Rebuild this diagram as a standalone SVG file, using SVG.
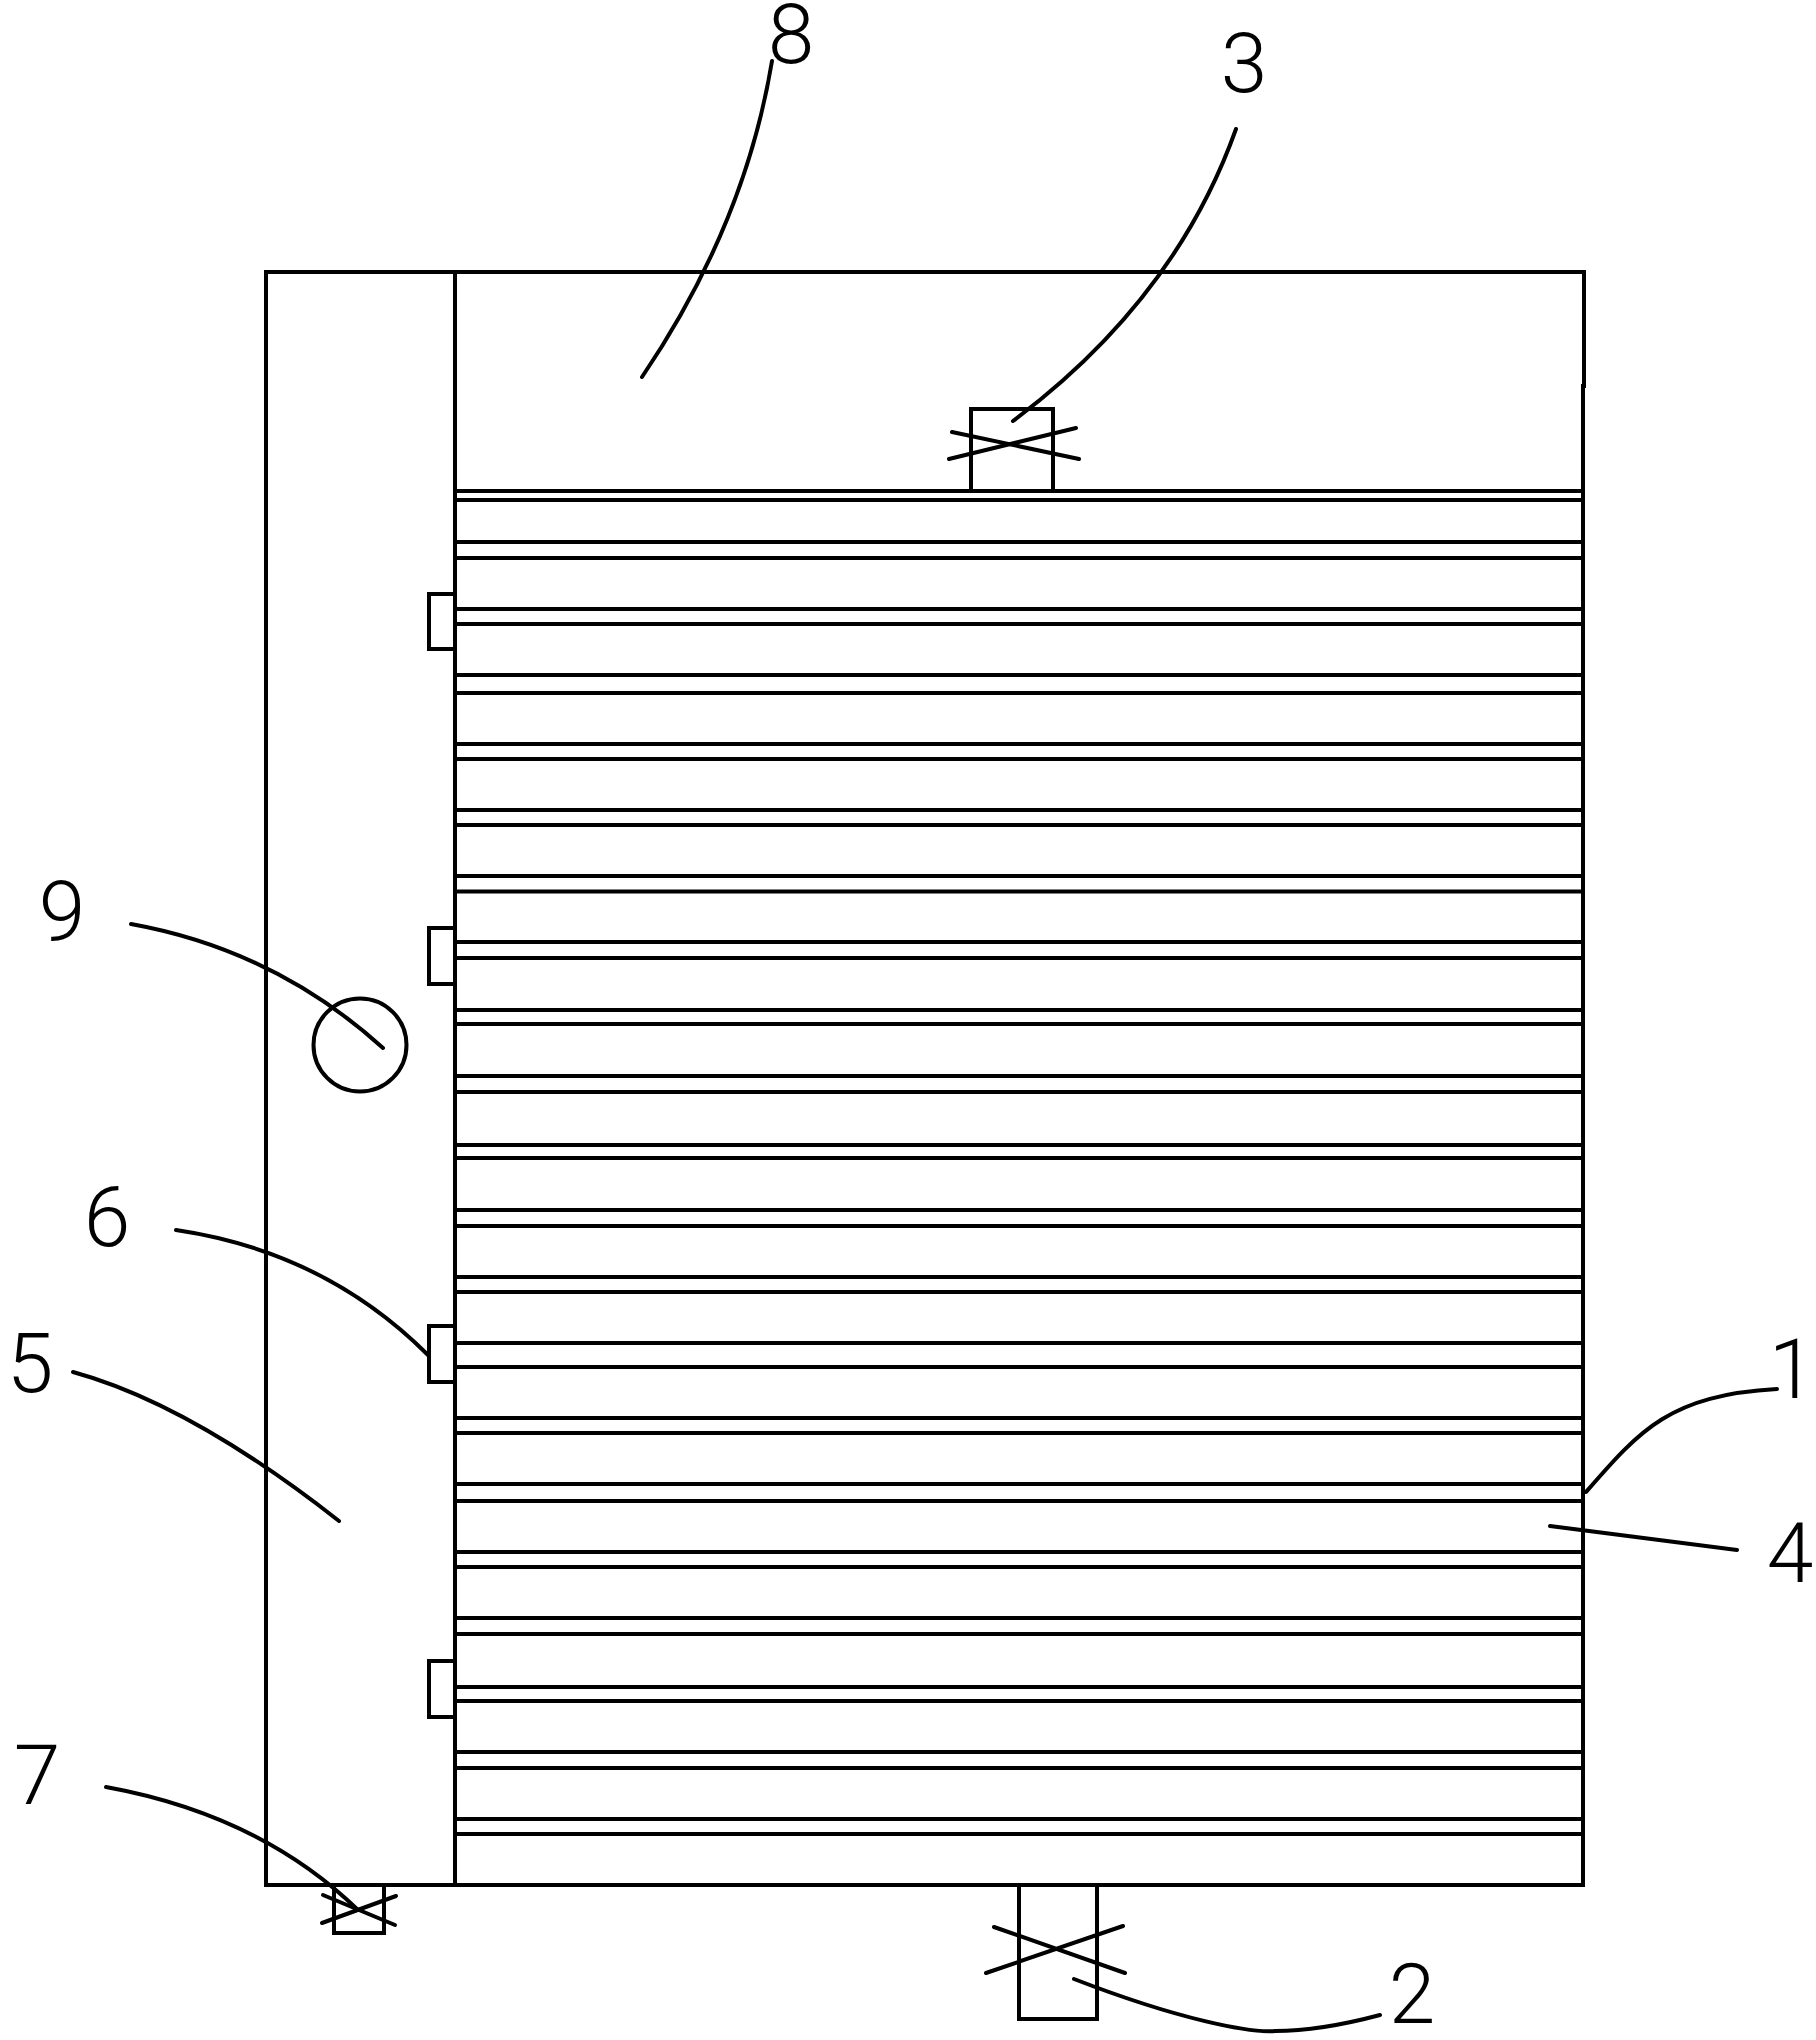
<svg xmlns="http://www.w3.org/2000/svg" width="1816" height="2040" viewBox="0 0 1816 2040">
<style>
.s{fill:none;stroke:#000;stroke-width:4}
.t{fill:none;stroke:#000;stroke-width:4;stroke-linecap:round}
.n{font-family:"Roboto","Liberation Sans",sans-serif;font-weight:300;font-size:84px;fill:#000;text-anchor:middle}
</style>
<rect width="1816" height="2040" fill="#fff"/>
<g id="housing" class="s">
<path d="M266,272H1584V386H1583V1885H266Z"/>
<path d="M455,272V1885"/>
</g>
<g id="plates" class="s">
<path d="M455,491H1583M455,500H1583M455,542H1583M455,558H1583M455,609H1583M455,624H1583M455,675H1583M455,693H1583M455,744H1583M455,759H1583M455,810H1583M455,825H1583M455,876H1583M455,891.500H1583M455,942H1583M455,958H1583M455,1010H1583M455,1024H1583M455,1076H1583M455,1092H1583M455,1145H1583M455,1158H1583M455,1210H1583M455,1226H1583M455,1277H1583M455,1292H1583M455,1343H1583M455,1367H1583M455,1418H1583M455,1433H1583M455,1484H1583M455,1501H1583M455,1552H1583M455,1567H1583M455,1618H1583M455,1634H1583M455,1687H1583M455,1701H1583M455,1752H1583M455,1768H1583M455,1819H1583M455,1834H1583"/>
</g>
<g id="clip-1" class="s"><path d="M455,594H429V649H455"/></g>
<g id="clip-2" class="s"><path d="M455,928H429V984H455"/></g>
<g id="clip-3" class="s"><path d="M455,1326H429V1382H455"/></g>
<g id="clip-4" class="s"><path d="M455,1661H429V1717H455"/></g>
<g id="gauge-9"><circle class="s" cx="360" cy="1045" r="46.500"/></g>
<g id="valve-3" class="s"><path d="M971,491V409H1053V491"/><path class="t" d="M952,432L1079,459M949,459L1076,428"/></g>
<g id="valve-2" class="s"><path d="M1019,1885V2019H1097V1885"/><path class="t" d="M994,1927L1125,1973M986,1973L1123,1926"/></g>
<g id="valve-7" class="s"><path d="M334,1885V1933H384V1885"/><path class="t" d="M323,1895L395,1925M322,1923L396,1896"/></g>
<g id="connectors" class="t">
<path d="M772,61Q745,225 642,377"/>
<path d="M1236,129Q1175,300 1013,421"/>
<path d="M131,924Q275,950 383,1048"/>
<path d="M176,1230Q325,1252 428,1355"/>
<path d="M73,1372Q190,1404 339,1521"/>
<path d="M106,1787Q260,1815 358,1910"/>
<path d="M1074,1979C1180,2020 1250,2033 1275,2031C1310,2031 1350,2023 1380,2015"/>
<path d="M1586,1492C1640,1430 1670,1395 1777,1389"/>
<path d="M1550,1526L1737,1550"/>
</g>
<g id="labels">
<text class="n" x="791" y="63">8</text>
<text class="n" x="1244" y="92">3</text>
<text class="n" x="62" y="941">9</text>
<text class="n" x="107" y="1246">6</text>
<text class="n" x="30" y="1392">5</text>
<text class="n" x="37" y="1804">7</text>
<text class="n" x="1412" y="2023">2</text>
<text class="n" x="1792" y="1398">1</text>
<text class="n" x="1790" y="1582">4</text>
</g>
</svg>
